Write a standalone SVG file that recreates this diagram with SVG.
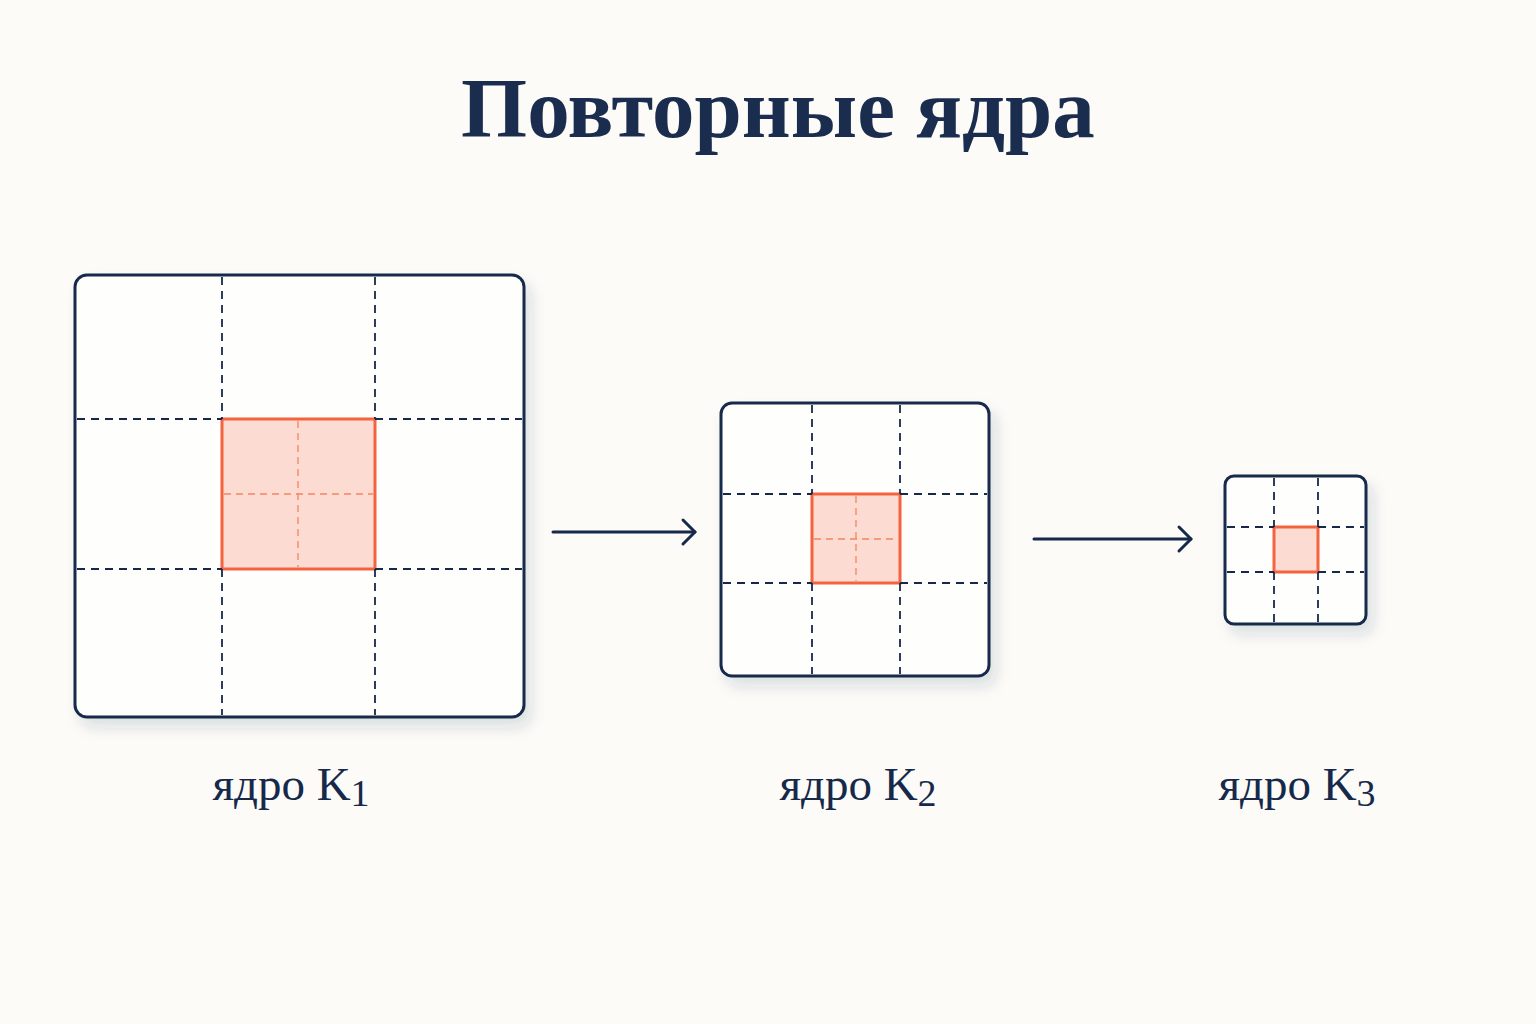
<svg xmlns="http://www.w3.org/2000/svg" width="1536" height="1024" viewBox="0 0 1536 1024">
<defs>
<filter id="sh" x="-10%" y="-10%" width="130%" height="130%">
<feDropShadow dx="6" dy="9" stdDeviation="7" flood-color="#1b2d4f" flood-opacity="0.13"/>
</filter>
<marker id="arr" viewBox="0 0 30 30" refX="25" refY="15" markerWidth="30" markerHeight="30" markerUnits="userSpaceOnUse" orient="auto">
<path d="M13 3 L25 15 L13 27" fill="none" stroke="#17294b" stroke-width="3" stroke-linecap="round" stroke-linejoin="round"/>
</marker>
</defs>
<style>
.frame{fill:#fefefc;stroke:#17294b;stroke-width:3}
.grid{stroke:#17294b;stroke-width:1.8;stroke-dasharray:8 6;fill:none}
.hl{fill:#fcdcd2;stroke:#f5623f;stroke-width:3}
.sub{stroke:#f5845f;stroke-width:1.3;stroke-dasharray:7 5;fill:none}
.title{font-family:"Liberation Serif","DejaVu Serif",serif;font-weight:bold;font-size:85px;fill:#1b2d4f}
.lbl{font-family:"Liberation Serif","DejaVu Serif",serif;font-size:47px;fill:#17294b}
.conn{stroke:#17294b;stroke-width:3;fill:none;stroke-linecap:round}
</style>
<rect width="1536" height="1024" fill="#fcfbf7"/>
<text class="title" x="778" y="137" text-anchor="middle">Повторные ядра</text>

<g id="k1">
<rect class="frame" x="75" y="275" width="449" height="442" rx="12" filter="url(#sh)"/>
<rect class="hl" x="222" y="419" width="153" height="150"/>
<path class="sub" d="M298 421 V567 M224 494 H373"/>
<path class="grid" d="M222 277 V419 M222 569 V715 M375 277 V419 M375 569 V715 M77 419 H222 M375 419 H522 M77 569 H222 M375 569 H522"/>
<text class="lbl" x="291" y="800" text-anchor="middle">ядро K<tspan font-size="38" dy="6">1</tspan></text>
</g>

<g id="k2">
<rect class="frame" x="721" y="403" width="268" height="273" rx="11" filter="url(#sh)"/>
<rect class="hl" x="812" y="494" width="88" height="89"/>
<path class="sub" d="M856 496 V581 M814 539 H898"/>
<path class="grid" d="M812 405 V494 M812 583 V674 M900 405 V494 M900 583 V674 M723 494 H812 M900 494 H987 M723 583 H812 M900 583 H987"/>
<text class="lbl" x="858" y="800" text-anchor="middle">ядро K<tspan font-size="38" dy="6">2</tspan></text>
</g>

<g id="k3">
<rect class="frame" x="1225" y="476" width="141" height="148" rx="9" filter="url(#sh)"/>
<rect class="hl" x="1274" y="527" width="44" height="45"/>
<path class="grid" d="M1274 478 V527 M1274 572 V622 M1318 478 V527 M1318 572 V622 M1227 527 H1274 M1318 527 H1364 M1227 572 H1274 M1318 572 H1364"/>
<text class="lbl" x="1297" y="800" text-anchor="middle">ядро K<tspan font-size="38" dy="6">3</tspan></text>
</g>

<g id="connectors">
<line class="conn" x1="553" y1="532" x2="695" y2="532" marker-end="url(#arr)"/>
<line class="conn" x1="1034" y1="539" x2="1191" y2="539" marker-end="url(#arr)"/>
</g>
</svg>
